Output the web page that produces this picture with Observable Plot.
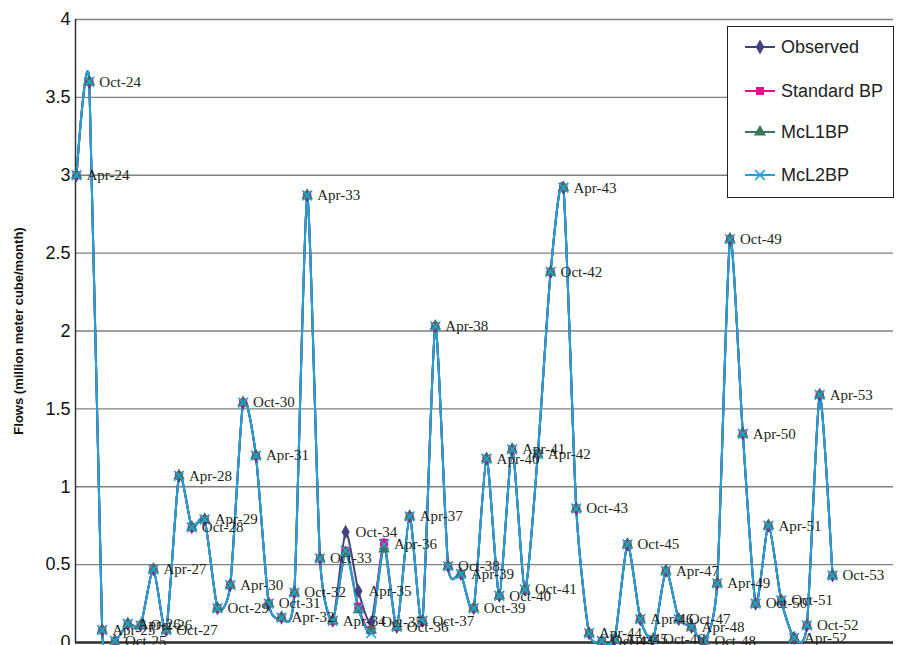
<!DOCTYPE html>
<html>
<head>
<meta charset="utf-8">
<script src="https://cdn.jsdelivr.net/npm/d3@7"></script>
<script src="https://cdn.jsdelivr.net/npm/@observablehq/plot@0.6"></script>
<style>
  html, body { margin: 0; padding: 0; background: #fff; }
  #wrap { position: relative; width: 900px; height: 645px; }
  #legend { position: absolute; left: 727px; top: 26px; }
</style>
</head>
<body>
<div id="wrap"></div>
<script>
const labels = ["Apr-24","Oct-24","Apr-25","Oct-25","Apr-26","Oct-26","Apr-27","Oct-27","Apr-28","Oct-28",
  "Apr-29","Oct-29","Apr-30","Oct-30","Apr-31","Oct-31","Apr-32","Oct-32","Apr-33","Oct-33",
  "Apr-34","Oct-34","Apr-35","Oct-35","Apr-36","Oct-36","Apr-37","Oct-37","Apr-38","Oct-38",
  "Apr-39","Oct-39","Apr-40","Oct-40","Apr-41","Oct-41","Apr-42","Oct-42","Apr-43","Oct-43",
  "Apr-44","Oct-44","Apr-45","Oct-45","Apr-46","Oct-46","Apr-47","Oct-47","Apr-48","Oct-48",
  "Apr-49","Oct-49","Apr-50","Oct-50","Apr-51","Oct-51","Apr-52","Oct-52","Apr-53","Oct-53"];

const observed = [3.00,3.60,0.08,0.01,0.12,0.11,0.47,0.08,1.07,0.74,
  0.79,0.22,0.37,1.54,1.20,0.25,0.16,0.32,2.87,0.54,
  0.14,0.71,0.33,0.13,0.63,0.10,0.81,0.14,2.03,0.49,
  0.44,0.22,1.18,0.30,1.24,0.34,1.21,2.38,2.92,0.86,
  0.06,0.01,0.02,0.63,0.15,0.02,0.46,0.15,0.10,0.01,
  0.38,2.59,1.34,0.25,0.75,0.27,0.03,0.11,1.59,0.43];

const standardBP = [3.00,3.60,0.08,0.01,0.12,0.11,0.47,0.08,1.07,0.74,
  0.79,0.22,0.37,1.54,1.20,0.25,0.16,0.32,2.87,0.54,
  0.14,0.59,0.23,0.08,0.64,0.10,0.81,0.14,2.03,0.49,
  0.44,0.22,1.18,0.30,1.24,0.34,1.21,2.38,2.92,0.86,
  0.06,0.01,0.02,0.63,0.15,0.02,0.46,0.15,0.10,0.01,
  0.38,2.59,1.34,0.25,0.75,0.27,0.03,0.11,1.59,0.43];

const mcl1BP = [3.00,3.60,0.08,0.01,0.12,0.11,0.47,0.08,1.07,0.74,
  0.79,0.22,0.37,1.54,1.20,0.25,0.16,0.32,2.87,0.54,
  0.14,0.58,0.21,0.08,0.60,0.10,0.81,0.14,2.03,0.49,
  0.44,0.22,1.18,0.30,1.24,0.34,1.21,2.38,2.92,0.86,
  0.06,0.01,0.02,0.63,0.15,0.02,0.46,0.15,0.10,0.01,
  0.38,2.59,1.34,0.25,0.75,0.27,0.03,0.11,1.59,0.43];

const mcl2BP = [3.00,3.60,0.08,0.01,0.12,0.11,0.47,0.08,1.07,0.74,
  0.79,0.22,0.37,1.54,1.20,0.25,0.16,0.32,2.87,0.54,
  0.14,0.59,0.22,0.06,0.63,0.10,0.81,0.14,2.03,0.49,
  0.44,0.22,1.18,0.30,1.24,0.34,1.21,2.38,2.92,0.86,
  0.06,0.01,0.02,0.63,0.15,0.02,0.46,0.15,0.10,0.01,
  0.38,2.59,1.34,0.25,0.75,0.27,0.03,0.11,1.59,0.43];

const seriesNames = ["Observed", "Standard BP", "McL1BP", "McL2BP"];
const seriesColors = ["#44427e", "#ec0c8c", "#3b7758", "#1ea3dd"];
const seriesSymbols = ["diamond", "square", "triangle", "times"];
const yTicks = [0, 0.5, 1, 1.5, 2, 2.5, 3, 3.5, 4];
const yTitle = "Flows (million meter cube/month)";

const seriesValues = [observed, standardBP, mcl1BP, mcl2BP];
const rows = seriesValues.map(vals => labels.map((lab, i) => ({i, label: lab, v: vals[i]})));
const xDomain = [-0.08, 63.76];

const marks = [
  Plot.gridY(yTicks, {stroke: "#7f7f7f", strokeOpacity: 1, strokeWidth: 1.3}),
  Plot.ruleY([0], {stroke: "#333", strokeWidth: 2.5}),
  Plot.ruleX([xDomain[0]], {stroke: "#333", strokeWidth: 1.5}),
  Plot.axisY(yTicks, {tickSize: 0, tickPadding: 5, fontSize: 18, fontFamily: "Liberation Sans, Arial, sans-serif", fill: "#111", tickFormat: d => String(d), label: null}),
  Plot.text([yTitle], {frameAnchor: "left", textAnchor: "middle", dx: -57, rotate: -90, fontWeight: "bold", fontSize: 13, fontFamily: "Liberation Sans, Arial, sans-serif", fill: "#111"})
];
rows.forEach((data, k) => {
  marks.push(Plot.line(data, {x: "i", y: "v", curve: "cardinal", tension: 0.35, stroke: seriesColors[k], strokeWidth: 2}));
});
rows.forEach((data, k) => {
  const sym = seriesSymbols[k];
  if (sym === "times") {
    marks.push(Plot.dot(data, {x: "i", y: "v", symbol: sym, r: 4.5, stroke: seriesColors[k], strokeWidth: 1.6}));
  } else {
    marks.push(Plot.dot(data, {x: "i", y: "v", symbol: sym, r: sym === "square" ? 4.6 : 4.3, fill: seriesColors[k], stroke: "none"}));
  }
});
marks.push(Plot.text(rows[0], {x: "i", y: "v", text: "label", dx: 10, textAnchor: "start", fontSize: 15, fontFamily: "Liberation Serif, Times New Roman, serif", fill: "#231f20"}));

const chart = Plot.plot({
  width: 900,
  height: 645,
  marginLeft: 75,
  marginRight: 7,
  marginTop: 19,
  marginBottom: 3,
  style: {background: "#fff", overflow: "visible"},
  x: {type: "linear", domain: xDomain, axis: null},
  y: {domain: [0, 4], axis: null},
  marks
});
const wrap = document.getElementById("wrap");
wrap.appendChild(chart);

// Legend overlay
const lg = d3.select(wrap).append("svg").attr("id", "legend").attr("width", 167).attr("height", 172);
lg.append("rect").attr("x", 0.5).attr("y", 0.5).attr("width", 166).attr("height", 171).attr("fill", "#fff").attr("stroke", "#222").attr("stroke-width", 1);
const rowY = [21, 65, 106, 149];
const d3sym = {diamond: d3.symbolDiamond, square: d3.symbolSquare, triangle: d3.symbolTriangle, times: d3.symbolTimes};
seriesNames.forEach((name, k) => {
  const g = lg.append("g").attr("transform", `translate(0,${rowY[k]})`);
  g.append("line").attr("x1", 18).attr("x2", 48).attr("y1", 0).attr("y2", 0).attr("stroke", seriesColors[k]).attr("stroke-width", 2);
  const sym = seriesSymbols[k];
  const p = g.append("path").attr("transform", "translate(33,0)").attr("d", d3.symbol(d3sym[sym], 64)());
  if (sym === "times") p.attr("fill", "none").attr("stroke", seriesColors[k]).attr("stroke-width", 1.6);
  else p.attr("fill", seriesColors[k]);
  g.append("text").attr("x", 54).attr("y", 0).attr("dy", "0.35em").attr("font-size", 18)
    .attr("font-family", "Liberation Sans, Arial, sans-serif").attr("fill", "#222").text(name);
});
</script>
</body>
</html>
